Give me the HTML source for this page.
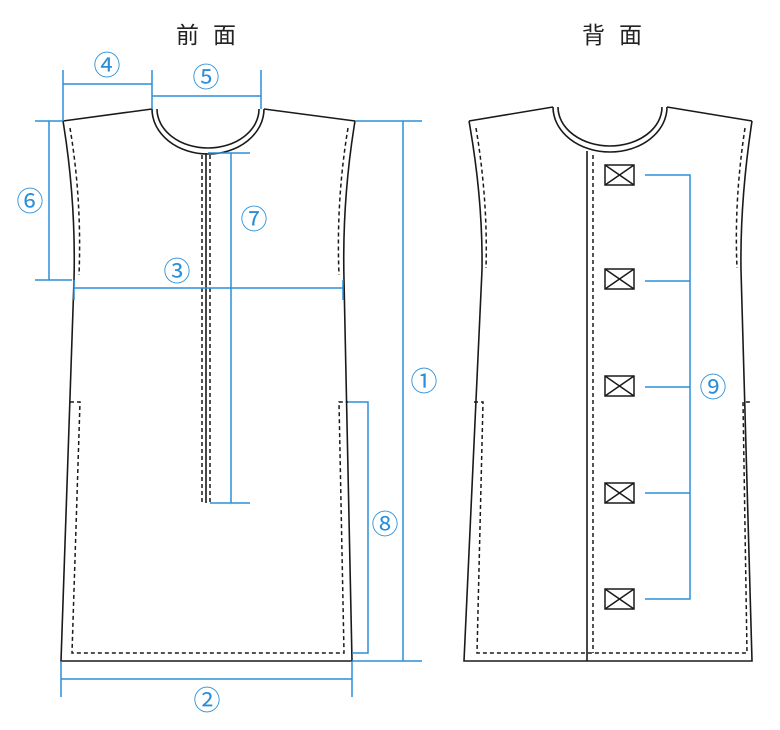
<!DOCTYPE html>
<html><head><meta charset="utf-8"><style>
html,body{margin:0;padding:0;background:#fff;}
svg{display:block;}
text{font-family:"Liberation Sans","Noto Sans CJK JP",sans-serif;}
</style></head><body>
<svg width="780" height="730" viewBox="0 0 780 730" xmlns="http://www.w3.org/2000/svg">
<text x="176" y="43" font-size="23" fill="#222" letter-spacing="14">前面</text>
<text x="582" y="43" font-size="23" fill="#222" letter-spacing="14">背面</text>

<g fill="none" stroke="#1a1a1a" stroke-width="1.6">
<path d="M63,121 L152,109 M264,109 L355,121 M63,121 Q76,200 74,280 L61,661 L352,661 L344,280 Q342,200 355,121"/>
<path d="M152,109 A56,45 0 0 0 264,109"/>
<path d="M157,109 A51,39 0 0 0 259,109"/>
<line x1="206" y1="153" x2="206" y2="503"/>
<path d="M469,121 L553,107 M667,107 L752,121 M469,121 Q483,200 482,270 L464,661 L752,661 L741,270 Q740,200 752,121"/>
<path d="M553,107 A57,45 0 0 0 667,107"/>
<path d="M558,107 A52,39 0 0 0 662,107"/>
<line x1="587" y1="151" x2="587" y2="661"/>
</g>
<g fill="none" stroke="#1a1a1a" stroke-width="1.5" stroke-dasharray="4,3">
<path d="M70,128 Q82,200 79,275"/>
<path d="M348,128 Q336,200 339,275"/>
<line x1="202" y1="155" x2="202" y2="503"/>
<line x1="210" y1="155" x2="210" y2="503"/>
<path d="M70,402 L80,402 L72,653 L344,653 L339,402 L348,402"/>
<path d="M476,128 Q488,200 486,268"/>
<path d="M745,128 Q734,200 737,268"/>
<line x1="593" y1="155" x2="593" y2="653"/>
<path d="M474,402 L483,402 L477,653 L747,653 L743,402 L750,402"/>
</g>
<g fill="#fff" stroke="#1a1a1a" stroke-width="1.5">
<g id="b"><rect x="605" y="165" width="29" height="20"/><path d="M605,165 L634,185 M634,165 L605,185"/></g>
<use href="#b" y="104"/><use href="#b" y="211"/><use href="#b" y="318"/><use href="#b" y="424"/>
</g>
<g fill="none" stroke="#2a8fd8" stroke-width="1.5">
<path d="M63,70 V121 M152,70 V109 M63,84 H152"/>
<path d="M261,70 V109 M152,96 H261"/>
<path d="M35,121 H63 M35,280 H72 M49,121 V280"/>
<path d="M208,153 H250 M210,503 H250 M231,153 V503"/>
<path d="M74,288 H343 M74,280 V300 M343,280 V300"/>
<path d="M355,121 H422 M352,661 H422 M403,121 V661"/>
<path d="M348,402 H368 V653 H352"/>
<path d="M61,661 V697 M352,661 V697 M61,679 H352"/>
<path d="M645,175 H690 V599 H645 M645,281 H690 M645,387 H690 M645,493 H690"/>
</g>
<g fill="#2a8fd8" font-size="27" text-anchor="middle">
<text x="107" y="75">④</text>
<text x="206" y="87">⑤</text>
<text x="30" y="211">⑥</text>
<text x="254" y="229">⑦</text>
<text x="177" y="281">③</text>
<text x="424" y="391">①</text>
<text x="385" y="534">⑧</text>
<text x="207" y="710">②</text>
<text x="713" y="397">⑨</text>
</g>
</svg>
</body></html>
